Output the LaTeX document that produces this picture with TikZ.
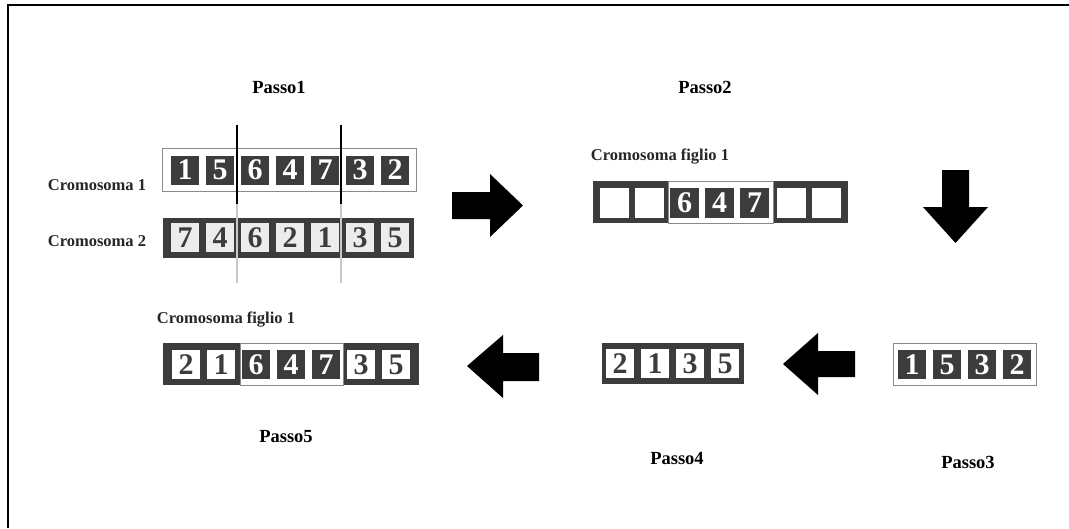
\documentclass[tikz,border=0pt]{standalone}
\usepackage{fontspec}
\setmainfont{Liberation Serif}
\definecolor{cellDark}{HTML}{3C3C3C}
\definecolor{cellLight}{HTML}{ECECEC}
\definecolor{rimGray}{HTML}{8A8A8A}
\definecolor{cutGray}{HTML}{C8C8C8}
\begin{document}
\begin{tikzpicture}[x=1pt,y=-1pt,
  step label/.style={font=\fontsize{18.5}{19}\selectfont\bfseries, inner sep=0pt},
  row label/.style={font=\fontsize{16.5}{17}\selectfont\bfseries, text=black!85, inner sep=0pt},
  gene/.style={font=\fontsize{30}{30}\selectfont\bfseries, inner sep=0pt,
               minimum width=28pt, minimum height=29pt, anchor=center},
  dcell/.style={gene, fill=cellDark, text=white},
  lcell/.style={gene, fill=cellLight, text=cellDark},
  wcell/.style={gene, fill=white, text=cellDark},
  darkbar/.style={fill=cellDark},
  whitebar/.style={fill=white, draw=rimGray, line width=0.8pt},
  cutline/.style={line width=1.8pt},
  bigarrow/.style={fill=black}
]
\useasboundingbox (0,0) rectangle (1069,528);
\fill[white] (0,0) rectangle (1069,528);
% frame
\draw[line width=2pt] (8,528) -- (8,5) -- (1069,5);

% ---------- Passo 1 ----------
\node[step label] (p1) at (279,87) {Passo1};
\node[row label] (lab1) at (97,185) {Cromosoma 1};
\node[row label] (lab2) at (97,241) {Cromosoma 2};

\draw[whitebar] (162,148) rectangle (416,191);
\foreach \d [count=\i from 0] in {1,5,6,4,7,3,2}
  \node[dcell] (a\i) at (185+35*\i,170) {\d};

\fill[darkbar] (163,218) rectangle (414,258);
\foreach \d [count=\i from 0] in {7,4,6,2,1,3,5}
  \node[lcell] (b\i) at (185+35*\i,237.5) {\d};

% cut points
\coordinate (cutAtop) at (237,125);
\coordinate (cutAmid) at (237,204);
\coordinate (cutAbot) at (237,283);
\coordinate (cutBtop) at (341,125);
\coordinate (cutBmid) at (341,204);
\coordinate (cutBbot) at (341,283);
\draw[cutline, cutGray] (cutAmid) -- (cutAbot);
\draw[cutline, cutGray] (cutBmid) -- (cutBbot);
\draw[cutline] (cutAtop) -- (cutAmid);
\draw[cutline] (cutBtop) -- (cutBmid);

% arrow to Passo 2
\fill[bigarrow] (452,192) -- (490,192) -- (490,174) -- (523,205.5) -- (490,237) -- (490,219) -- (452,219) -- cycle;

% ---------- Passo 2 ----------
\node[step label] (p2) at (705,87) {Passo2};
\node[row label] (lab3) at (660,157) {Cromosoma figlio 1};
\fill[darkbar] (593,181) rectangle (848,223);
\draw[whitebar] (668,181) rectangle (773,223);
\foreach \d [count=\i from 0] in {{},{}}
  \node[wcell, minimum width=29pt, minimum height=30pt] (c\i) at (614.5+35*\i,203) {\d};
\foreach \d [count=\i from 2] in {6,4,7}
  \node[dcell, minimum width=29pt, minimum height=30pt] (c\i) at (614.5+35*\i,203) {\d};
\foreach \d [count=\i from 5] in {{},{}}
  \node[wcell, minimum width=29pt, minimum height=30pt] (c\i) at (616.5+35*\i,203) {\d};

% arrow to Passo 3
\fill[bigarrow] (942,170) -- (969,170) -- (969,207) -- (988,207) -- (955.5,243) -- (923,207) -- (942,207) -- cycle;

% ---------- Passo 3 ----------
\node[step label] (p3) at (968,462) {Passo3};
\draw[whitebar] (893,343) rectangle (1036,385);
\foreach \d [count=\i from 0] in {1,5,3,2}
  \node[dcell] (e\i) at (912+35*\i,364.5) {\d};

% arrow to Passo 4
\fill[bigarrow] (855,351) -- (818,351) -- (818,333) -- (783,364) -- (818,395) -- (818,377) -- (855,377) -- cycle;

% ---------- Passo 4 ----------
\node[step label] (p4) at (677,458) {Passo4};
\fill[darkbar] (602,343) rectangle (744,384);
\foreach \d [count=\i from 0] in {2,1,3,5}
  \node[wcell] (f\i) at (620+35*\i,363.5) {\d};

% arrow to Passo 5
\fill[bigarrow] (539,353) -- (503,353) -- (503,335) -- (467,366) -- (503,398) -- (503,381) -- (539,381) -- cycle;

% ---------- Passo 5 ----------
\node[step label] (p5) at (286,437) {Passo5};
\node[row label] (lab4) at (226,320) {Cromosoma figlio 1};
\fill[darkbar] (163,343) rectangle (419,385);
\draw[whitebar] (240,343) rectangle (343,385);
\foreach \d [count=\i from 0] in {2,1}
  \node[wcell] (g\i) at (186+35*\i,364.5) {\d};
\foreach \d [count=\i from 2] in {6,4,7}
  \node[dcell] (g\i) at (186+35*\i,364.5) {\d};
\foreach \d [count=\i from 5] in {3,5}
  \node[wcell] (g\i) at (186+35*\i,364.5) {\d};
\end{tikzpicture}
\end{document}
